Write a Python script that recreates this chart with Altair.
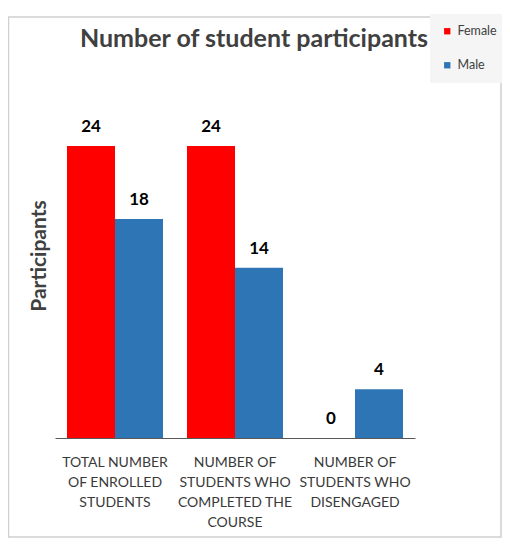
import altair as alt
import pandas as pd

categories = [
    "TOTAL NUMBER|OF ENROLLED|STUDENTS",
    "NUMBER OF|STUDENTS WHO|COMPLETED THE|COURSE",
    "NUMBER OF|STUDENTS WHO|DISENGAGED",
]
female = [24, 24, 0]
male = [18, 14, 4]
series = ["Female", "Male"]
colors = ["#FF0000", "#2E75B6"]
title_text = "Number of student participants"

rows = []
for c, f, m in zip(categories, female, male):
    rows.append({"cat": c, "sex": "Female", "value": f})
    rows.append({"cat": c, "sex": "Male", "value": m})
df = pd.DataFrame(rows)

FONT = "Lato"

x = alt.X("cat:N", sort=categories, title=None,
          scale=alt.Scale(paddingInner=0.2, paddingOuter=0.1),
          axis=alt.Axis(labelAngle=0, labelExpr="split(datum.label, '|')",
                        labelFontSize=14, labelColor="#3a3a3a", labelFont=FONT,
                        labelLineHeight=20, labelPadding=17, ticks=False,
                        domainColor="#595959", domainWidth=1.2, labelLimit=200))
y = alt.Y("value:Q", scale=alt.Scale(domain=[0, 30], nice=False),
          axis=alt.Axis(title="Participants", labels=False, ticks=False, domain=False,
                        grid=False, titleFontSize=21, titleFontWeight="bold",
                        titleColor="#404040", titleFont=FONT, titlePadding=6))

bars = alt.Chart(df).mark_bar().encode(
    x=x, y=y,
    xOffset=alt.XOffset("sex:N", sort=series),
    color=alt.Color("sex:N", sort=series,
                    scale=alt.Scale(domain=series, range=colors),
                    legend=alt.Legend(title=None, orient="none", legendX=375, legendY=-59,
                                      fillColor="#f5f5f5", padding=11,
                                      labelFontSize=12.5, labelColor="#404040", labelFont=FONT,
                                      symbolType="square", symbolSize=40,
                                      symbolStrokeWidth=0, rowPadding=21,
                                      labelOffset=4)),
)

labels = alt.Chart(df).mark_text(dy=-10, baseline="bottom", fontSize=17,
                                 fontWeight="bold", font=FONT, color="#000000").encode(
    x=x, y=y,
    xOffset=alt.XOffset("sex:N", sort=series),
    text="value:Q",
)

border = alt.Chart(pd.DataFrame({"a": [0]})).mark_rect(
    fill=None, stroke="#d0d0d0", strokeWidth=1.5).encode(
    x=alt.value(-46.5), x2=alt.value(446), y=alt.value(-56), y2=alt.value(464))

title = alt.Chart(pd.DataFrame({"t": [title_text]})).mark_text(
    fontSize=25, font=FONT, fontWeight="bold", color="#404040",
    align="center", baseline="alphabetic").encode(
    x=alt.value(199), y=alt.value(-26), text="t:N")

chart = alt.layer(border, bars, labels, title).properties(
    width=360, height=365,
    autosize=alt.AutoSizeParams(type="none"),
    padding={"left": 47, "top": 65, "right": 87, "bottom": 100},
).configure_view(stroke=None)

chart.save("out.html", embed_options={"renderer": "svg", "actions": False})
